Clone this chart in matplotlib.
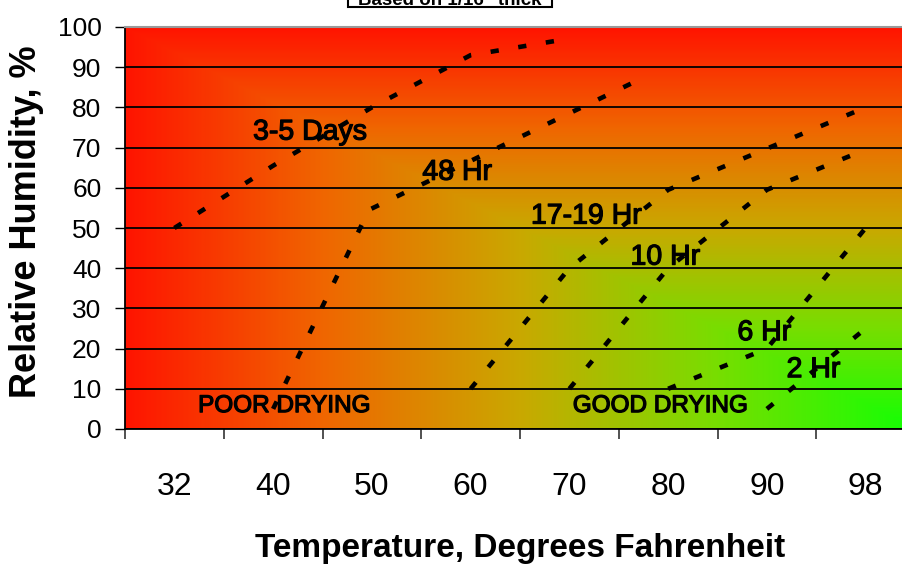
import matplotlib
matplotlib.use("Agg")
import matplotlib.pyplot as plt
import matplotlib.patheffects as pe
import numpy as np
from matplotlib.colors import LinearSegmentedColormap
from matplotlib.patches import Rectangle

plt.rcParams['font.family'] = ['Liberation Sans', 'DejaVu Sans']

# category axis
temps = ["32", "40", "50", "60", "70", "80", "90", "98"]
rh_ticks = list(range(0, 101, 10))

# drying-time curves (x in category units, 0.5 = first category centre)
days35_x = [0.5, 1.5, 2.5, 3.5, 4.35]
days35_y = [50, 65.5, 80, 93, 96.5]
hr48_x = [1.5, 2.47, 5.3]
hr48_y = [5, 54.5, 88]
hr17_x = [3.5, 4.5, 5.5, 7.5]
hr17_y = [10, 40, 59.5, 80]
hr10_x = [4.5, 5.5, 6.5, 7.5]
hr10_y = [10, 40, 59.5, 69.5]
hr6_x = [5.5, 6.5, 7.5]
hr6_y = [10, 20, 50]
hr2_x = [6.5, 7.5]
hr2_y = [5, 25]

curves = [(days35_x, days35_y), (hr48_x, hr48_y), (hr17_x, hr17_y),
          (hr10_x, hr10_y), (hr6_x, hr6_y), (hr2_x, hr2_y)]

labels = [("3-5 Days", 1.874, 72.0), ("48 Hr", 3.364, 62.0),
          ("17-19 Hr", 4.671, 51.1), ("10 Hr", 5.471, 40.9),
          ("6 Hr", 6.474, 22.1), ("2 Hr", 6.971, 12.9)]

fig = plt.figure(figsize=(9.02, 5.65), dpi=100)
ax = fig.add_axes([125/902, 136/565, 790/902, 402/565])
ax.set_xlim(0, 8)
ax.set_ylim(0, 100)

# corner gradient: red on left and top, green at bottom right
cmap = LinearSegmentedColormap.from_list("dry", [
    (0.0, (0.08, 1.0, 0.02)),
    (0.25, (0.47, 0.87, 0.0)),
    (0.5, (0.79, 0.66, 0.0)),
    (0.75, (0.94, 0.40, 0.0)),
    (1.0, (1.0, 0.08, 0.0)),
])
u = np.linspace(0, 1, 400)
v = np.linspace(1, 0, 300)
U, V = np.meshgrid(u, v)
T = np.maximum(1 - U, V)
ax.imshow(T, cmap=cmap, vmin=0, vmax=1, extent=[0, 8, 0, 100],
          aspect='auto', zorder=0, interpolation='bilinear')

ax.set_yticks(rh_ticks)
ax.yaxis.grid(True, color='black', lw=1.3)
ax.tick_params(axis='y', length=7, width=1, pad=10, labelsize=19)

ax.set_xticks(range(9))
ax.set_xticklabels([])
ax.set_xticks(np.arange(len(temps)) + 0.5, labels=temps, minor=True)
ax.tick_params(axis='x', which='major', length=7, width=1.2, color='#333333')
ax.tick_params(axis='x', which='minor', length=0, pad=31, labelsize=23)

ax.spines['right'].set_visible(False)
ax.spines['top'].set_color('#999999')
ax.spines['top'].set_linewidth(1.5)
ax.spines['left'].set_linewidth(1.3)
ax.spines['bottom'].set_linewidth(1.3)

for x, y in curves:
    ax.plot(x, y, color='black', lw=3.3, linestyle=(0, (1.8, 4.3)),
            dash_capstyle='butt', zorder=3)

# slightly heavier strokes like the original's rendering
heavy = [pe.withStroke(linewidth=0.9, foreground='black')]
for txt, x, y in labels:
    ax.text(x, y, txt, ha='center', va='baseline', fontsize=20.5, zorder=2.8,
            path_effects=heavy)
ax.text(1.611, 4.2, "POOR DRYING", ha='center', va='baseline', fontsize=17.5,
        zorder=2.8, path_effects=heavy)
ax.text(5.42, 4.2, "GOOD DRYING", ha='center', va='baseline', fontsize=17.5,
        zorder=2.8, path_effects=heavy)

fig.text(520/902, 8/565, "Temperature, Degrees Fahrenheit", ha='center',
         va='baseline', fontsize=24, fontweight='bold')
fig.text(27/902, (565-222)/565, "Relative Humidity, %", ha='center', va='center',
         rotation=90, fontsize=26, fontweight='bold')

# title box, mostly cut off at the top edge as in the original
fig.patches.append(Rectangle((348/902, (565-6.7)/565), 204/902, 0.1,
                             transform=fig.transFigure, fc='white', ec='black', lw=1.5))
fig.text(450/902, (565-5)/565, 'Based on 1/16" thick', ha='center', va='baseline',
         fontsize=13.5, fontweight='bold')

fig.savefig("out.png", dpi=100)
